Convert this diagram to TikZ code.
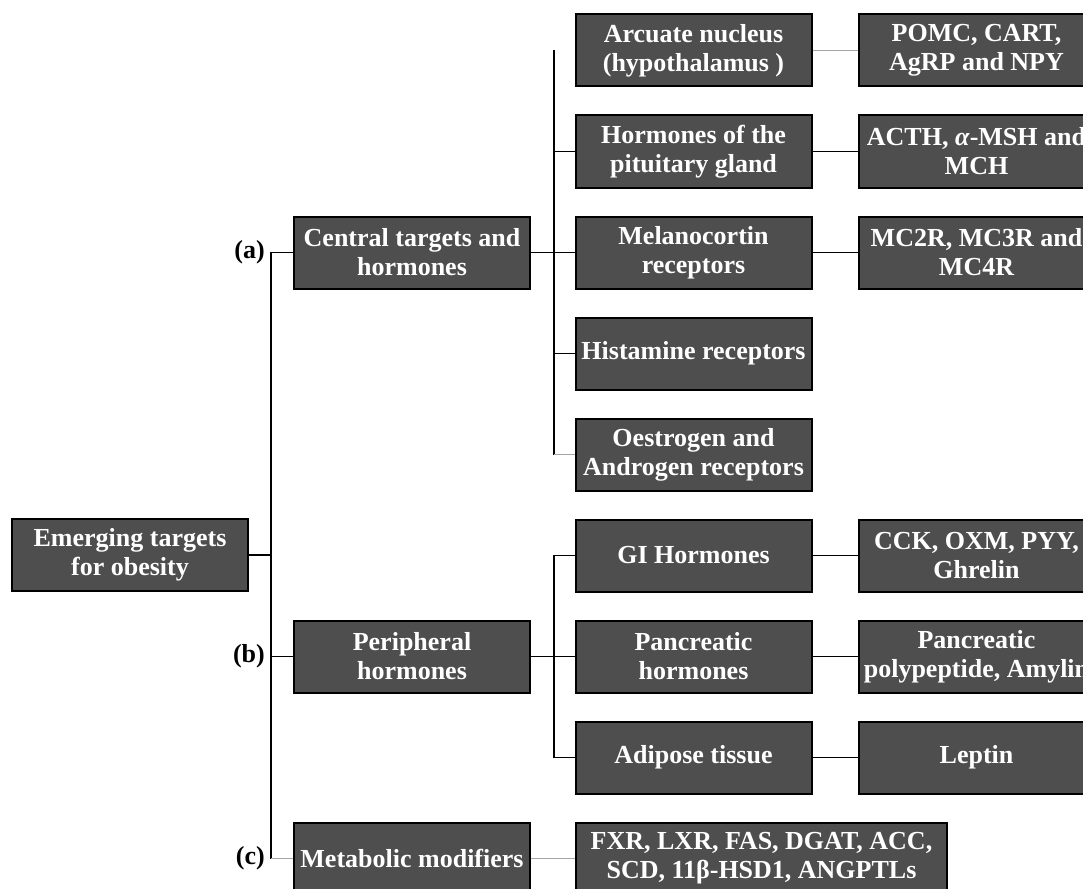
\documentclass[tikz,border=0pt]{standalone}
\usepackage{fontspec}
\setmainfont{Liberation Serif}
\usepackage{tikz}
\usetikzlibrary{calc}
\definecolor{boxgray}{RGB}{78,78,78}
\definecolor{faintline}{RGB}{165,165,165}

\begin{document}
\begin{tikzpicture}[x=1pt, y=-1pt,
    box/.style={draw=black, line width=2pt, fill=boxgray, text=white, align=center,
        minimum width=236pt, minimum height=72pt, inner sep=0pt,
        font=\bfseries\fontsize{26}{29}\selectfont},
    link/.style={black, line width=1.2pt},
    faint/.style={faintline, line width=1.2pt},
    tag/.style={font=\bfseries\fontsize{26}{29}\selectfont, anchor=east, inner sep=0pt}]
    \useasboundingbox (0,0) rectangle (1083,888);
    %Root
    \node[box] (root) at (130,555) {Emerging targets\\for obesity};
    %First level
    \node[box] (central) at (412,252.5) {Central targets and\\hormones};
    \node[box] (periph) at (412,656.5) {Peripheral\\hormones};
    \node[box] (metab) at (412,858.5) {Metabolic modifiers};
    %Central targets
    \node[box] (arcuate) at (693.5,50.5) {Arcuate nucleus\\(hypothalamus )};
    \node[box] (pituit) at (693.5,151.5) {Hormones of the\\pituitary gland};
    \node[box] (melano) at (693.5,252.5) {Melanocortin\\receptors};
    \node[box] (histam) at (693.5,353.5) {Histamine receptors};
    \node[box] (oestro) at (693.5,454.5) {Oestrogen and\\Androgen receptors};
    %Peripheral hormones
    \node[box] (gihorm) at (693.5,555.5) {GI Hormones};
    \node[box] (pancr) at (693.5,656.5) {Pancreatic\\hormones};
    \node[box] (adipose) at (693.5,757.5) {Adipose tissue};
    %Last column
    \node[box] (pomc) at (976.5,50.5) {POMC, CART,\\AgRP and NPY};
    \node[box] (acth) at (976.5,151.5) {ACTH, \textit{α}-MSH and\\MCH};
    \node[box] (mcr) at (976.5,252.5) {MC2R, MC3R and\\MC4R};
    \node[box] (cck) at (976.5,555.5) {CCK, OXM, PYY,\\Ghrelin};
    \node[box] (ppoly) at (976.5,656.5) {Pancreatic\\polypeptide, Amylin};
    \node[box] (leptin) at (976.5,757.5) {Leptin};
    \node[box, minimum width=371pt] (fxr) at (761.5,858.5) {FXR, LXR, FAS, DGAT, ACC,\\SCD, 11β-HSD1, ANGPTLs};
    %Trunk
    \draw[link] (central.west) -- ++(-22,0) coordinate (ta) -- (ta |- metab.west) coordinate (tc);
    \draw[faint] (tc) -- (metab.west);
    \draw[link] (periph.west) -- (periph.west -| ta);
    \draw[link] (root.east) -- (root.east -| ta);
    \node[tag, xshift=-6pt] (taga) at (ta) {(a)};
    \node[tag, xshift=-6pt] (tagb) at (ta |- periph.west) {(b)};
    \node[tag, xshift=-6pt] (tagc) at (tc) {(c)};
    %Central branches
    \coordinate (sa) at ($(central.east)+(23,0)$);
    \draw[link] (central.east) -- (melano.west);
    \draw[link] (sa |- arcuate.west) -- (sa |- oestro.west);
    \draw[link] (pituit.west -| sa) -- (pituit.west);
    \draw[link] (histam.west -| sa) -- (histam.west);
    \draw[faint] (oestro.west -| sa) -- (oestro.west);
    %Peripheral branches
    \draw[link] (periph.east) -- (pancr.west);
    \draw[link] (gihorm.west) -- (gihorm.west -| sa) -- (adipose.west -| sa) -- (adipose.west);
    %Right links
    \draw[faint] (arcuate.east) -- (pomc.west);
    \draw[link] (pituit.east) -- (acth.west);
    \draw[link] (melano.east) -- (mcr.west);
    \draw[link] (gihorm.east) -- (cck.west);
    \draw[link] (pancr.east) -- (ppoly.west);
    \draw[link] (adipose.east) -- (leptin.west);
    \draw[faint] (metab.east) -- (fxr.west);
\end{tikzpicture}
\end{document}
